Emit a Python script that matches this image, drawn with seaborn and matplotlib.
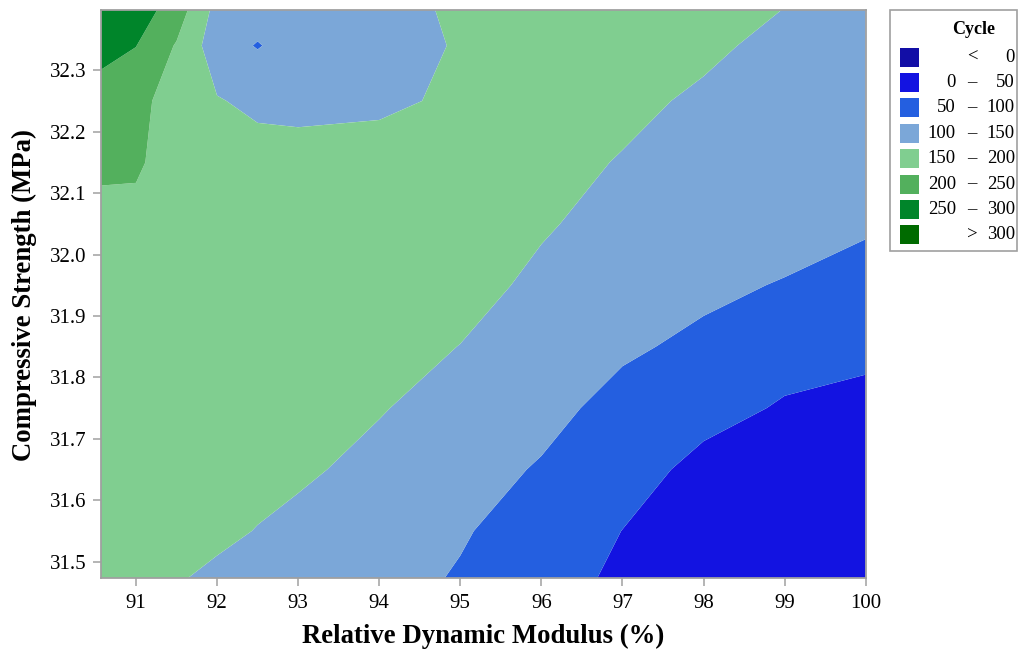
import numpy as np
import matplotlib
matplotlib.use("Agg")
import matplotlib.pyplot as plt
from matplotlib.patches import Rectangle
import seaborn as sns

# ---- data (Cycle values on a grid) ----
modulus = [90.5, 91.0, 91.5, 92.0, 92.5, 93.0, 94.0, 95.0, 96.0, 97.0, 98.0, 99.0, 100.0]
strength = [31.45, 31.55, 31.65, 31.75, 31.85, 31.95, 32.05, 32.15, 32.25, 32.34, 32.42]
cycle_3145 = [168, 160, 149, 141, 133, 125, 113, 94, 65, 40, 27, 19, 14]
cycle_3155 = [172, 166, 160, 156, 149, 142, 128, 104, 80, 49.5, 33, 24, 18]
cycle_3165 = [176, 172, 167, 163, 159, 155, 141, 118, 96, 68, 38, 27, 21]
cycle_3175 = [180, 177, 173, 170, 166, 162, 152, 137, 114, 85, 64, 46, 44]
cycle_3185 = [184, 181, 178, 175, 172, 169, 161, 149.5, 128, 107, 90, 66, 55]
cycle_3195 = [188, 185, 182, 179, 176, 173, 167, 160, 144, 121, 110, 97, 85]
cycle_3205 = [192, 188, 182, 178, 175, 172, 168, 162, 153, 140, 132, 120, 105]
cycle_3215 = [205, 206, 180, 172, 168, 166, 170, 168, 158, 148.5, 138, 128, 115]
cycle_3225 = [238, 212, 182, 153, 140, 138, 141, 158, 157, 156, 146, 132, 120]
cycle_3234 = [262, 251, 196, 122, 97, 122, 130, 154, 160, 161, 155, 143, 133]
cycle_3242 = [288, 275, 240, 140, 131, 128, 136, 158, 165, 166, 162, 152, 140]

levels = [0, 50, 100, 150, 200, 250, 300]
band_colors = ['#120EA6', '#1313E1', '#245FE0', '#7BA7D8',
               '#80CE90', '#53B05D', '#00852A', '#006B00']
x_ticks = [91, 92, 93, 94, 95, 96, 97, 98, 99, 100]
y_ticks = [31.5, 31.6, 31.7, 31.8, 31.9, 32.0, 32.1, 32.2, 32.3]

# ---- styling ----
sns.set_theme(style="white")
plt.rcParams['font.family'] = ['Liberation Serif', 'DejaVu Serif']
plt.rcParams['text.color'] = 'black'
plt.rcParams['axes.labelcolor'] = 'black'
plt.rcParams['xtick.labelcolor'] = 'black'
plt.rcParams['ytick.labelcolor'] = 'black'

W, H = 1019, 655
fig = plt.figure(figsize=(W / 100, H / 100), dpi=100)

def fx(px):
    return px / W

def fy(py):
    return 1 - py / H

ax = fig.add_axes([fx(100.7), fy(577.7), (865.7 - 100.7) / W, (577.7 - 10) / H])

Z = np.array([cycle_3145, cycle_3155, cycle_3165, cycle_3175, cycle_3185, cycle_3195,
              cycle_3205, cycle_3215, cycle_3225, cycle_3234, cycle_3242], dtype=float)
XX, YY = np.meshgrid(modulus, strength)
bounds = [-1e6] + levels + [1e6]
ax.contourf(XX, YY, Z, levels=bounds, colors=band_colors, antialiased=True)

ax.set_xlim(90.565, 100.0)
ax.set_ylim(31.474, 32.398)
ax.set_xticks(x_ticks)
ax.set_xticklabels([f"{v:g}" for v in x_ticks])
ax.set_yticks(y_ticks)
ax.set_yticklabels([f"{v:.1f}" for v in y_ticks])

for s in ax.spines.values():
    s.set_color('#A0A0A0')
    s.set_linewidth(1.3)
    s.set_visible(True)
ax.tick_params(axis='both', direction='out', length=5.5, width=1.1, color='#A0A0A0',
               labelsize=15, labelcolor='black')
ax.tick_params(axis='x', pad=6, bottom=True)
ax.tick_params(axis='y', pad=4.5, left=True)

ax.set_xlabel("Relative Dynamic Modulus (%)", fontsize=19.3, fontweight='bold',
              va='center', color='black')
ax.xaxis.set_label_coords(0.5, (577.7 - 636) / 567.7)
ax.set_ylabel("Compressive Strength (MPa)", fontsize=19.3, fontweight='bold',
              va='center', color='black')
ax.yaxis.set_label_coords((24 - 100.7) / 765, 0.5 - (295 - 293.85) / 567.7)

# ---- legend (drawn in figure pixel coordinates) ----
fig.add_artist(Rectangle((fx(890), fy(251)), (1017 - 890) / W, (251 - 10) / H,
                         transform=fig.transFigure, facecolor='white',
                         edgecolor='#A0A0A0', linewidth=1.2))
fig.text(fx(974), fy(30), "Cycle", ha='center', va='center', fontsize=13,
         fontweight='bold', color='black')
labels = [('', '<', f'{levels[0]}')]
for lo, hi in zip(levels[:-1], levels[1:]):
    labels.append((f'{lo}', '\u2013', f'{hi}'))
labels.append(('', '>', f'{levels[-1]}'))
for i, (c, (a, m, b)) in enumerate(zip(band_colors, labels)):
    cy = 57 + i * 25.4
    fig.add_artist(Rectangle((fx(900), fy(cy + 9.5)), 19 / W, 19 / H,
                             transform=fig.transFigure, facecolor=c, edgecolor='none'))
    fig.text(fx(956), fy(cy), a, ha='right', va='center', fontsize=13.5, color='black')
    fig.text(fx(972), fy(cy), m, ha='center', va='center', fontsize=13.5, color='black')
    fig.text(fx(1015), fy(cy), b, ha='right', va='center', fontsize=13.5, color='black')

fig.savefig("out.png", dpi=100)
